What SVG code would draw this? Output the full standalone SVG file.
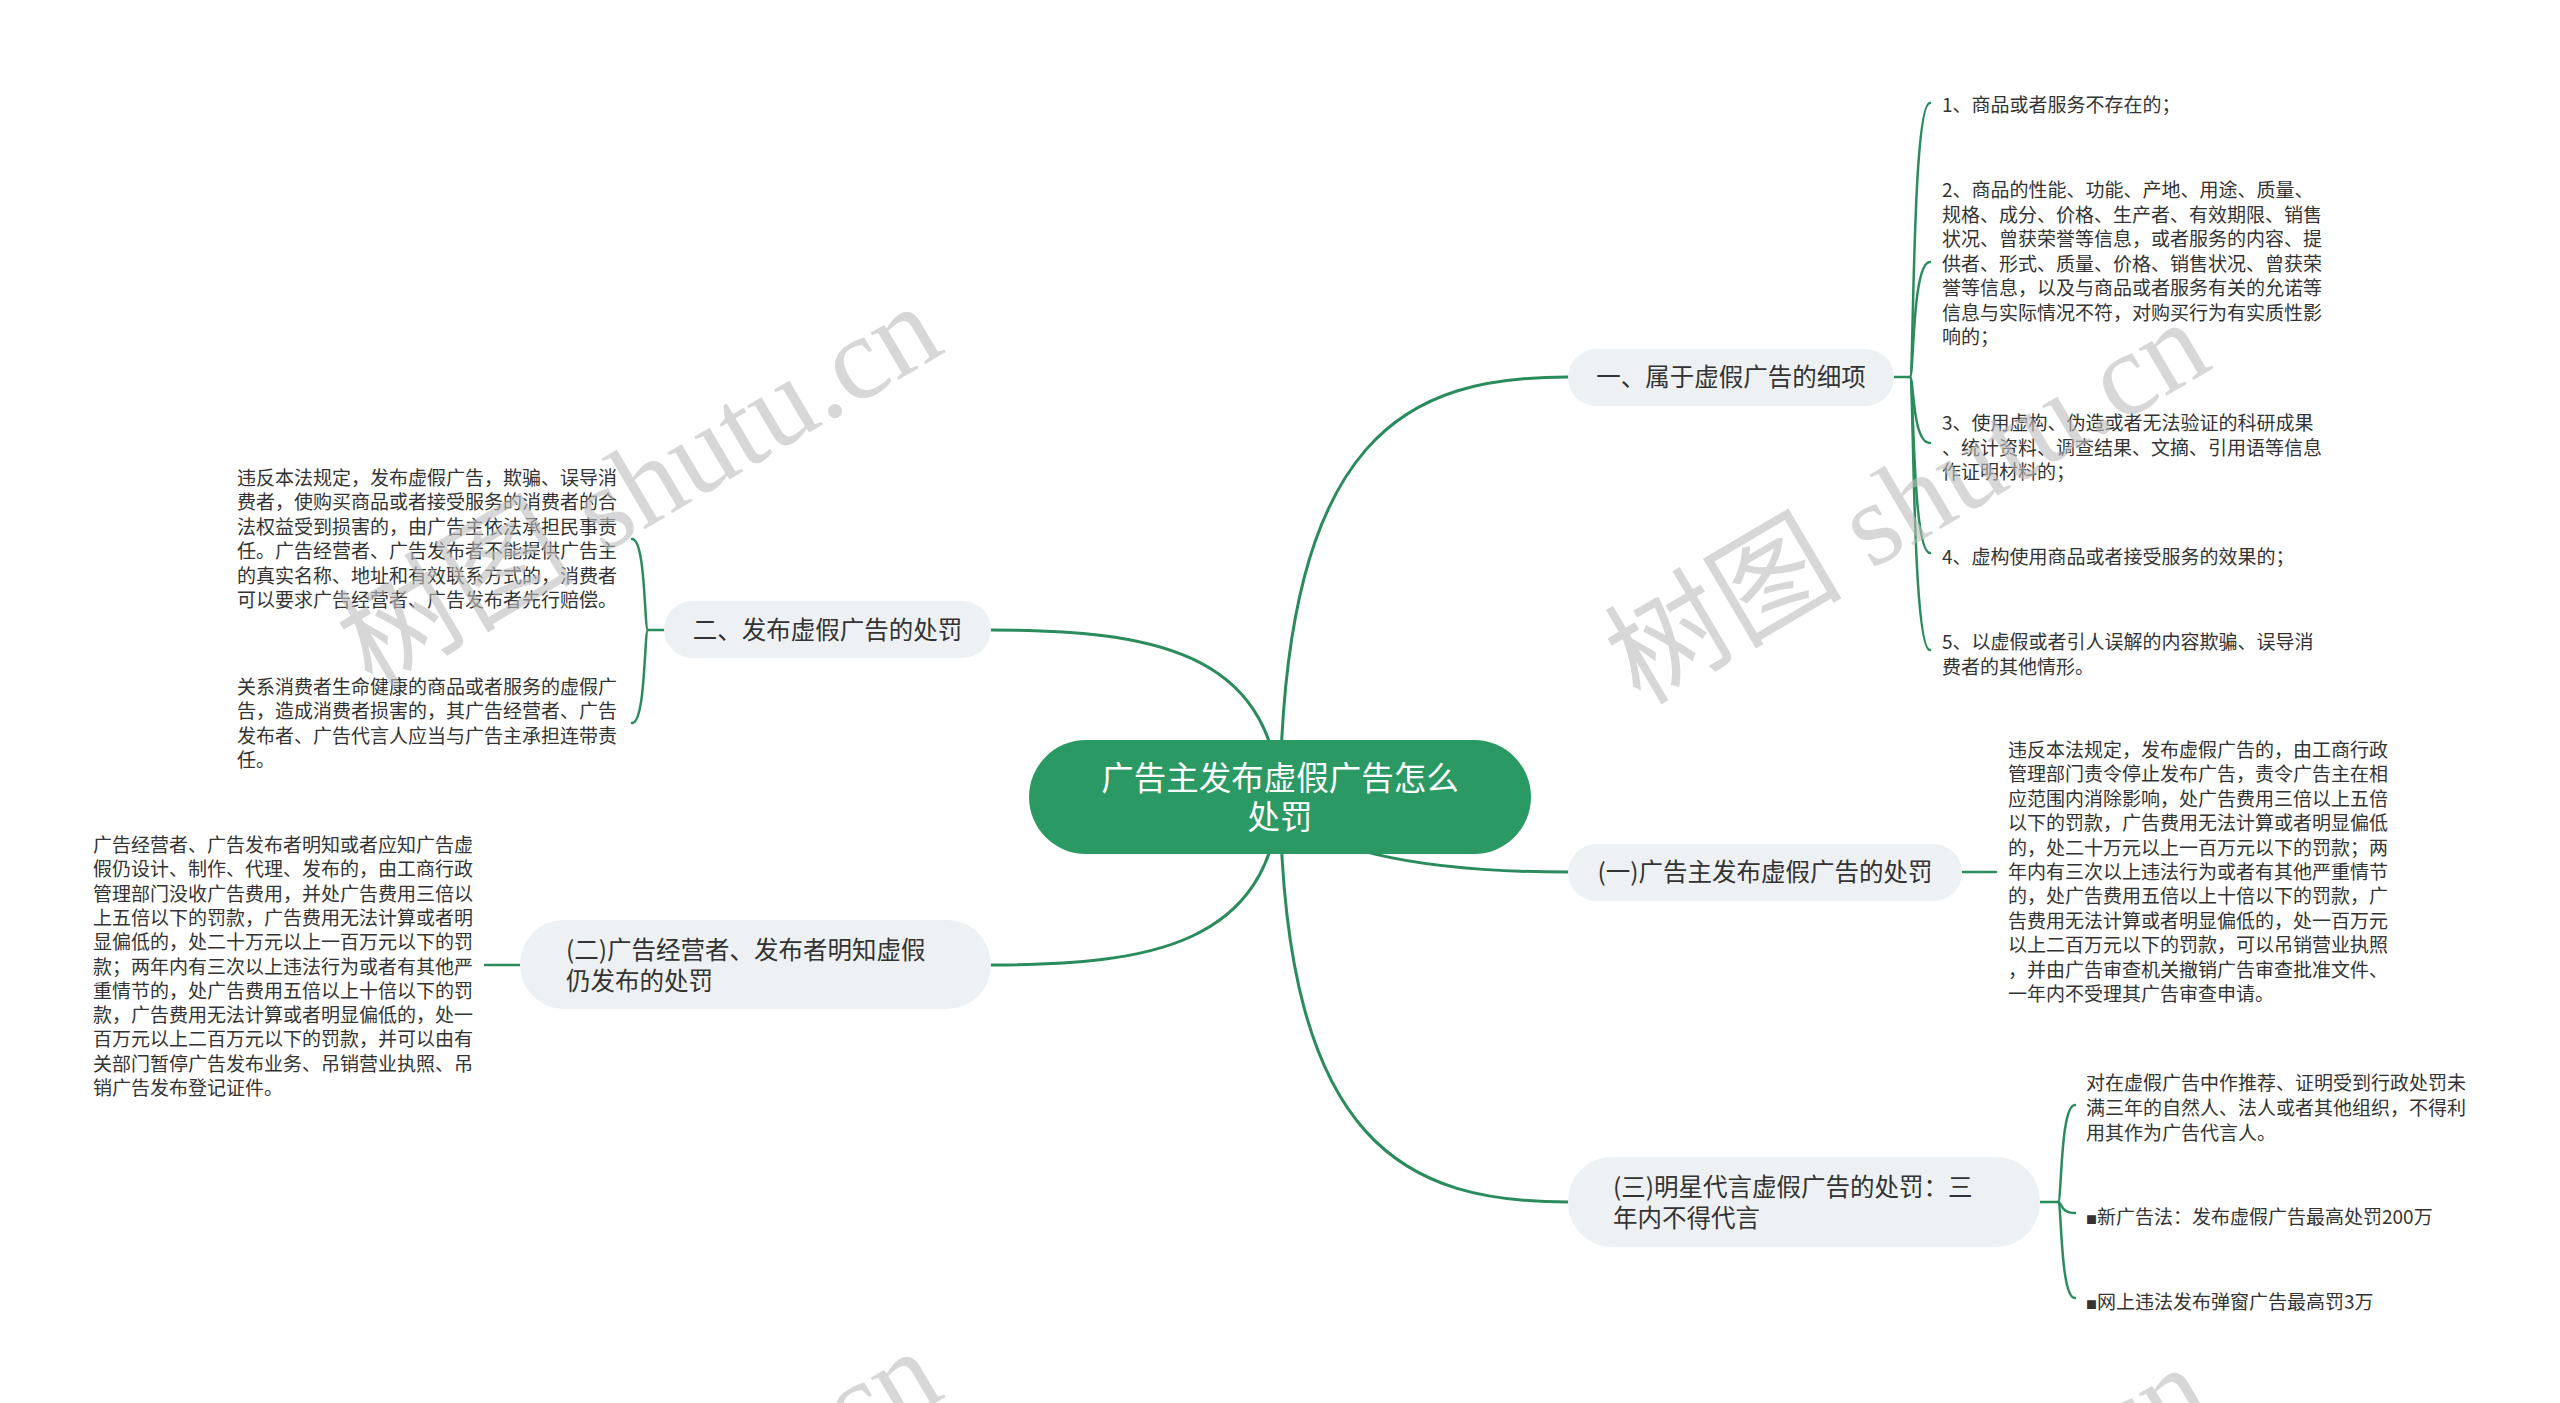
<svg xmlns="http://www.w3.org/2000/svg" width="2560" height="1403" viewBox="0 0 2560 1403">
<style>
text{font-family:"Noto Sans CJK SC","Microsoft YaHei",sans-serif;}
.t{font-size:19px;fill:#333333;}
.n{font-size:24.5px;fill:#333333;}
.root{font-size:32.5px;fill:#ffffff;}
.box{fill:#eef1f4;}
.main{fill:none;stroke:#2a8c5c;stroke-width:3;stroke-linecap:round;}
.sub{fill:none;stroke:#2a8c5c;stroke-width:2.5;stroke-linecap:round;}
.sq{font-size:11px;}
.wm{font-family:"Liberation Serif","Noto Sans CJK SC",serif;font-size:119px;fill:#bdbdbd;opacity:0.6;}
</style>
<rect width="2560" height="1403" fill="#ffffff"/>
<g id="connectors">
<path class="main" d="M1280,797 C1284,430 1410,377 1568,377"/>
<path class="main" d="M1280,797 C1270,650 1150,630 991,630"/>
<path class="main" d="M1280,797 C1270,945 1150,965 991,965"/>
<path class="main" d="M1280,797 C1300,850 1420,872 1568,872"/>
<path class="main" d="M1280,797 C1284,1150 1410,1202 1568,1202"/>
<path class="sub" d="M1894,377 L1910,377 C1914,377 1912,103 1930,103"/>
<path class="sub" d="M1910,377 C1914,377 1912,262 1930,262"/>
<path class="sub" d="M1910,377 C1914,377 1912,443 1930,443"/>
<path class="sub" d="M1910,377 C1914,377 1912,553 1930,553"/>
<path class="sub" d="M1910,377 C1914,377 1912,650 1930,650"/>
<path class="sub" d="M664,630 L648,630 C644,630 646,539 632,539"/>
<path class="sub" d="M648,630 C644,630 646,723 632,723"/>
<path class="sub" d="M1962,872 L1996,872"/>
<path class="sub" d="M520,965 L485,965"/>
<path class="sub" d="M2040,1202 L2058,1202 C2062,1202 2060,1105 2075,1105"/>
<path class="sub" d="M2058,1202 C2062,1202 2060,1213 2075,1213"/>
<path class="sub" d="M2058,1202 C2062,1202 2060,1298 2075,1298"/>
</g>
<g id="root">
<rect x="1029" y="740" width="502" height="114" rx="57" fill="#2a9964"/>
<text class="root" x="1280" y="790" text-anchor="middle"><tspan x="1280">广告主发布虚假广告怎么</tspan><tspan x="1280" dy="39">处罚</tspan></text>
</g>
<g id="node-1">
<rect class="box" x="1568" y="349" width="326" height="57" rx="28.5"/>
<text class="n" x="1731" y="386" text-anchor="middle">一、属于虚假广告的细项</text>
</g>
<g id="node-1-1">
<text class="t" x="1942" y="112">1、商品或者服务不存在的；</text>
</g>
<g id="node-1-2">
<text class="t" x="1942" y="197"><tspan x="1942">2、商品的性能、功能、产地、用途、质量、</tspan><tspan x="1942" dy="24.5">规格、成分、价格、生产者、有效期限、销售</tspan><tspan x="1942" dy="24.5">状况、曾获荣誉等信息，或者服务的内容、提</tspan><tspan x="1942" dy="24.5">供者、形式、质量、价格、销售状况、曾获荣</tspan><tspan x="1942" dy="24.5">誉等信息，以及与商品或者服务有关的允诺等</tspan><tspan x="1942" dy="24.5">信息与实际情况不符，对购买行为有实质性影</tspan><tspan x="1942" dy="24.5">响的；</tspan></text>
</g>
<g id="node-1-3">
<text class="t" x="1942" y="430"><tspan x="1942">3、使用虚构、伪造或者无法验证的科研成果</tspan><tspan x="1942" dy="24.5">、统计资料、调查结果、文摘、引用语等信息</tspan><tspan x="1942" dy="24.5">作证明材料的；</tspan></text>
</g>
<g id="node-1-4">
<text class="t" x="1942" y="564">4、虚构使用商品或者接受服务的效果的；</text>
</g>
<g id="node-1-5">
<text class="t" x="1942" y="649"><tspan x="1942">5、以虚假或者引人误解的内容欺骗、误导消</tspan><tspan x="1942" dy="24.5">费者的其他情形。</tspan></text>
</g>
<g id="node-2">
<rect class="box" x="664" y="601" width="327" height="57" rx="28.5"/>
<text class="n" x="827.5" y="639" text-anchor="middle">二、发布虚假广告的处罚</text>
</g>
<g id="node-2-1">
<text class="t" x="237" y="485"><tspan x="237">违反本法规定，发布虚假广告，欺骗、误导消</tspan><tspan x="237" dy="24.4">费者，使购买商品或者接受服务的消费者的合</tspan><tspan x="237" dy="24.4">法权益受到损害的，由广告主依法承担民事责</tspan><tspan x="237" dy="24.4">任。广告经营者、广告发布者不能提供广告主</tspan><tspan x="237" dy="24.4">的真实名称、地址和有效联系方式的，消费者</tspan><tspan x="237" dy="24.4">可以要求广告经营者、广告发布者先行赔偿。</tspan></text>
</g>
<g id="node-2-2">
<text class="t" x="237" y="694"><tspan x="237">关系消费者生命健康的商品或者服务的虚假广</tspan><tspan x="237" dy="24.4">告，造成消费者损害的，其广告经营者、广告</tspan><tspan x="237" dy="24.4">发布者、广告代言人应当与广告主承担连带责</tspan><tspan x="237" dy="24.4">任。</tspan></text>
</g>
<g id="node-3">
<rect class="box" x="1568" y="844" width="394" height="57" rx="28.5"/>
<text class="n" x="1765" y="881" text-anchor="middle">(一)广告主发布虚假广告的处罚</text>
</g>
<g id="node-3-1">
<text class="t" x="2008" y="757"><tspan x="2008">违反本法规定，发布虚假广告的，由工商行政</tspan><tspan x="2008" dy="24.4">管理部门责令停止发布广告，责令广告主在相</tspan><tspan x="2008" dy="24.4">应范围内消除影响，处广告费用三倍以上五倍</tspan><tspan x="2008" dy="24.4">以下的罚款，广告费用无法计算或者明显偏低</tspan><tspan x="2008" dy="24.4">的，处二十万元以上一百万元以下的罚款；两</tspan><tspan x="2008" dy="24.4">年内有三次以上违法行为或者有其他严重情节</tspan><tspan x="2008" dy="24.4">的，处广告费用五倍以上十倍以下的罚款，广</tspan><tspan x="2008" dy="24.4">告费用无法计算或者明显偏低的，处一百万元</tspan><tspan x="2008" dy="24.4">以上二百万元以下的罚款，可以吊销营业执照</tspan><tspan x="2008" dy="24.4">，并由广告审查机关撤销广告审查批准文件、</tspan><tspan x="2008" dy="24.4">一年内不受理其广告审查申请。</tspan></text>
</g>
<g id="node-4">
<rect class="box" x="520" y="920" width="471" height="89" rx="44"/>
<text class="n" x="566" y="959"><tspan x="566">(二)广告经营者、发布者明知虚假</tspan><tspan x="566" dy="31">仍发布的处罚</tspan></text>
</g>
<g id="node-4-1">
<text class="t" x="93" y="852"><tspan x="93">广告经营者、广告发布者明知或者应知广告虚</tspan><tspan x="93" dy="24.3">假仍设计、制作、代理、发布的，由工商行政</tspan><tspan x="93" dy="24.3">管理部门没收广告费用，并处广告费用三倍以</tspan><tspan x="93" dy="24.3">上五倍以下的罚款，广告费用无法计算或者明</tspan><tspan x="93" dy="24.3">显偏低的，处二十万元以上一百万元以下的罚</tspan><tspan x="93" dy="24.3">款；两年内有三次以上违法行为或者有其他严</tspan><tspan x="93" dy="24.3">重情节的，处广告费用五倍以上十倍以下的罚</tspan><tspan x="93" dy="24.3">款，广告费用无法计算或者明显偏低的，处一</tspan><tspan x="93" dy="24.3">百万元以上二百万元以下的罚款，并可以由有</tspan><tspan x="93" dy="24.3">关部门暂停广告发布业务、吊销营业执照、吊</tspan><tspan x="93" dy="24.3">销广告发布登记证件。</tspan></text>
</g>
<g id="node-5">
<rect class="box" x="1568" y="1157" width="472" height="90" rx="44"/>
<text class="n" x="1613" y="1196"><tspan x="1613">(三)明星代言虚假广告的处罚：三</tspan><tspan x="1613" dy="31">年内不得代言</tspan></text>
</g>
<g id="node-5-1">
<text class="t" x="2086" y="1090"><tspan x="2086">对在虚假广告中作推荐、证明受到行政处罚未</tspan><tspan x="2086" dy="25">满三年的自然人、法人或者其他组织，不得利</tspan><tspan x="2086" dy="25">用其作为广告代言人。</tspan></text>
</g>
<g id="node-5-2">
<text class="t" x="2086" y="1224"><tspan class="sq">■</tspan>新广告法：发布虚假广告最高处罚200万</text>
</g>
<g id="node-5-3">
<text class="t" x="2086" y="1309"><tspan class="sq">■</tspan>网上违法发布弹窗广告最高罚3万</text>
</g>
<g id="watermarks">
<text class="wm" transform="translate(372,690) rotate(-30.5)">树图 shutu.cn</text>
<text class="wm" transform="translate(1640,706) rotate(-30.5)">树图 shutu.cn</text>
<text class="wm" transform="translate(372,1735) rotate(-30.5)">树图 shutu.cn</text>
<text class="wm" transform="translate(1640,1751) rotate(-30.5)">树图 shutu.cn</text>
</g>
</svg>
